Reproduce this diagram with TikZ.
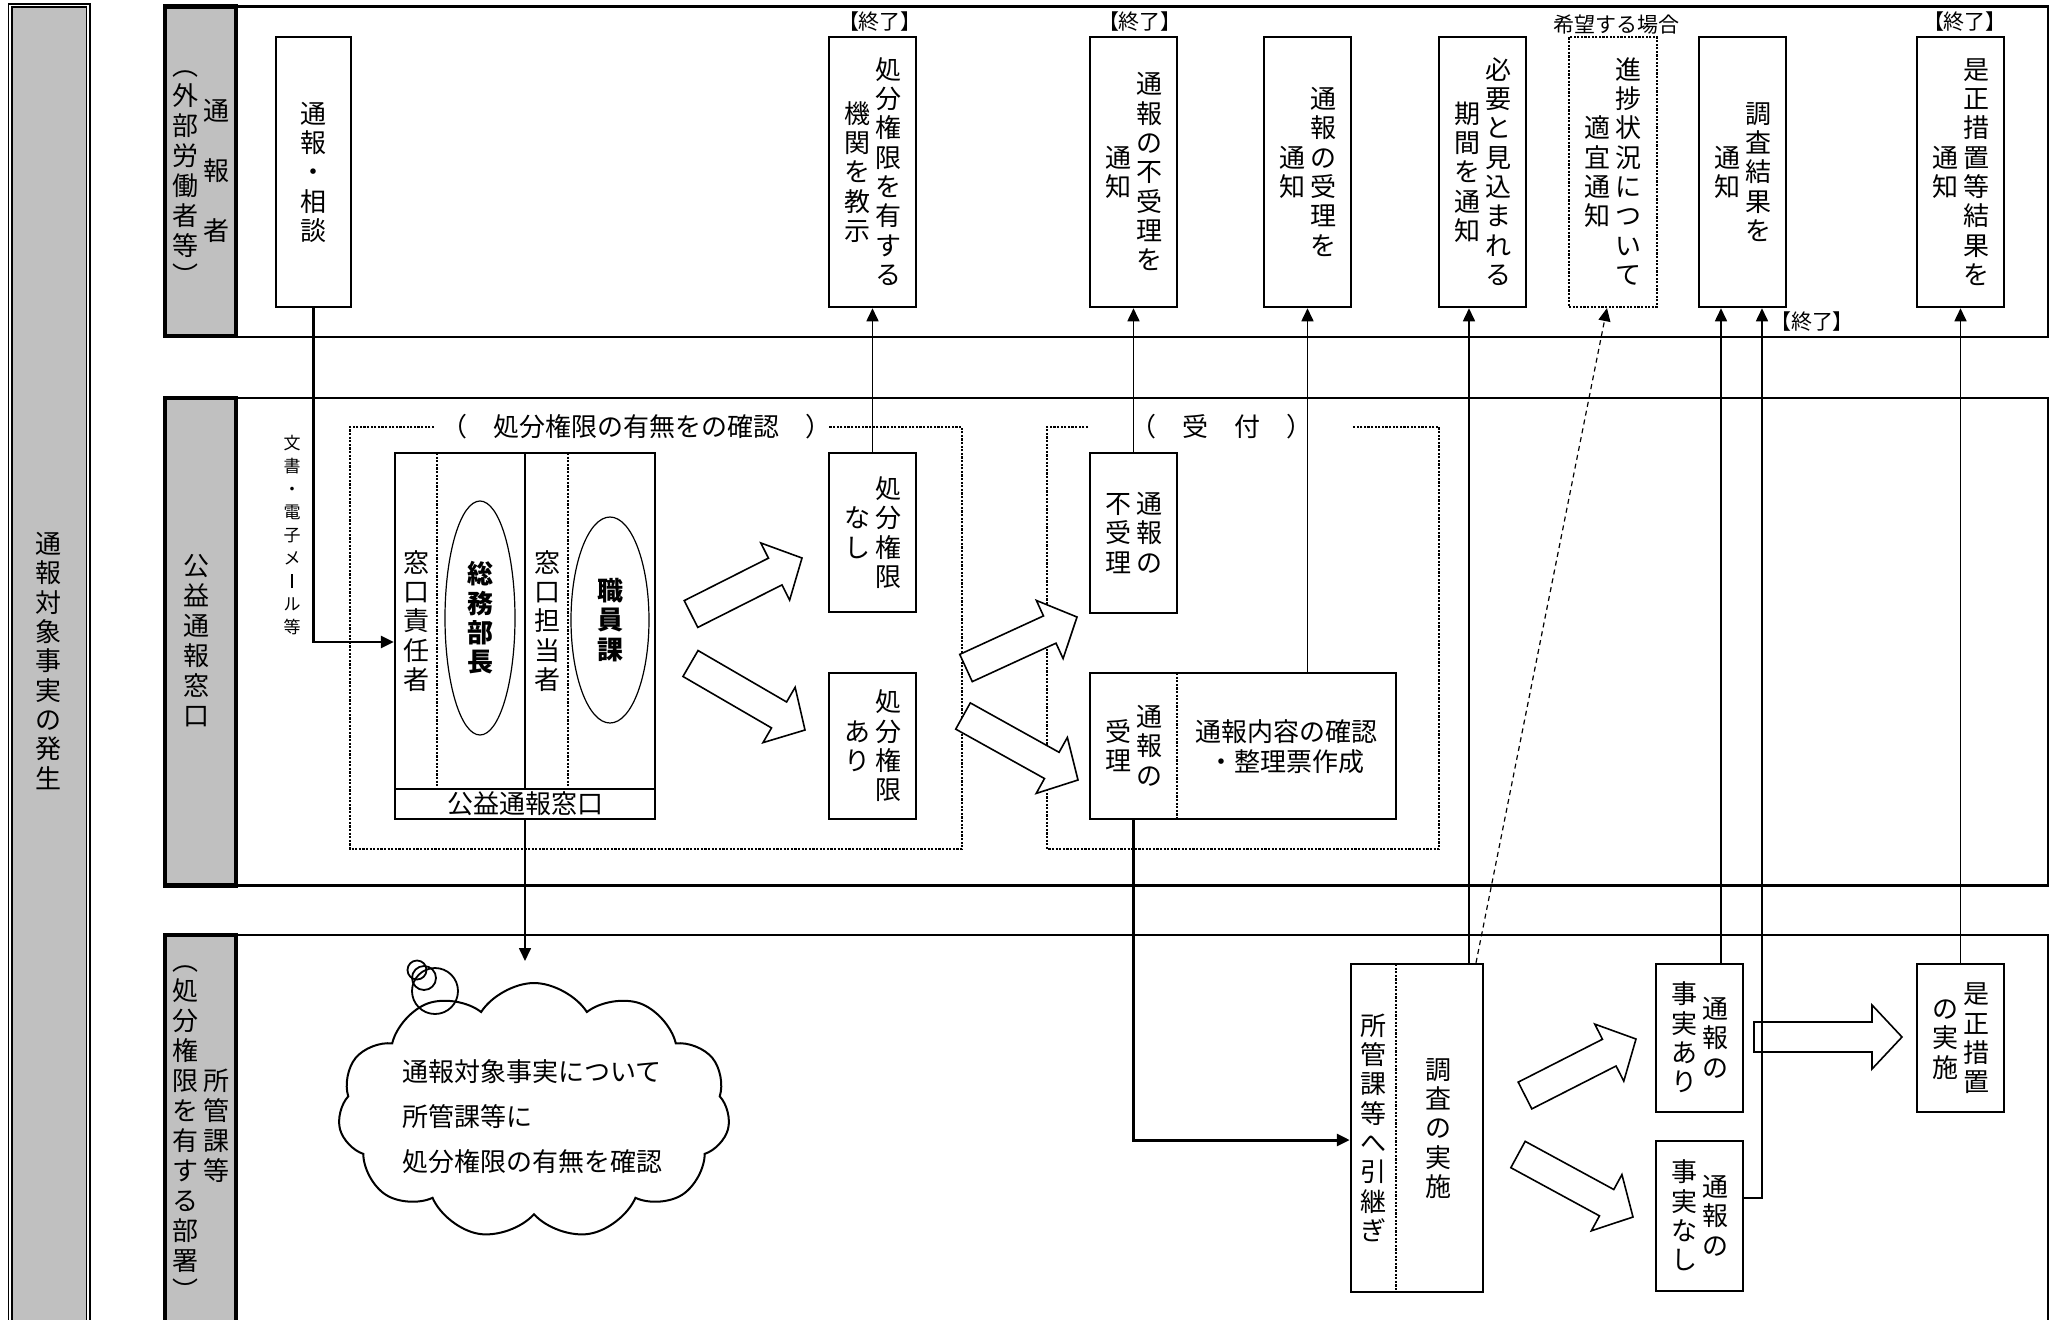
\documentclass[tikz,border=0pt]{standalone}
\usepackage{fontspec}
\setmainfont{Noto Sans CJK JP}
\newfontfamily\jpp{Noto Sans CJK JP}[RawFeature=+palt]
\usetikzlibrary{arrows.meta,calc,shapes.symbols,shapes.geometric}
\definecolor{hgray}{RGB}{192,192,192}
\newlength\vtpitch
\setlength\vtpitch{14.65pt}
\ExplSyntaxOn
\NewDocumentCommand\vt{O{\vtpitch}m}{
  \vbox{
    \baselineskip=#1\relax
    \lineskiplimit=-\maxdimen
    \lineskip=0pt
    \tl_map_inline:nn {#2} {\hbox to 1em {\hss\rule[-0.12em]{0pt}{1em}##1\hss}}
  }
}
\NewDocumentCommand\tcol{O{\vtpitch}mm}{
  $\vcenter{\vt[#1]{#2}}$\hskip2.5pt$\vcenter{\vt[#1]{#3}}$
}
\ExplSyntaxOff
\newcommand\vbar{\rule[-0.04em]{0.07em}{0.84em}}
\newcommand\barrow[2]{%
  \path ($(#2)!15pt!(#1)$) coordinate (bab);
  \draw[bigarr] ($(#1)!7.5pt!90:(#2)$) -- ($(bab)!7.5pt!-90:(#1)$) -- ($(bab)!16pt!-90:(#1)$) -- (#2) -- ($(bab)!16pt!90:(#1)$) -- ($(bab)!7.5pt!90:(#1)$) -- ($(#1)!7.5pt!-90:(#2)$) -- cycle;
}
\begin{document}
\begin{tikzpicture}[x=0.5pt,y=-0.5pt,
  every node/.style={font=\fontsize{13pt}{15pt}\selectfont, inner sep=0pt},
  sz/.style 2 args={minimum width=#1*0.5pt, minimum height=#2*0.5pt},
  box/.style={draw, rectangle, line width=1.25pt, fill=white},
  dotline/.style={line width=1.1pt, dash pattern=on 1.1pt off 0.7pt},
  lane/.style={line width=1.3pt},
  hdr/.style={draw, rectangle, line width=2.2pt, fill=hgray},
  conn/.style={line width=0.8pt, -{Triangle[width=6pt,length=6.5pt]}},
  bigarr/.style={line width=0.8pt, fill=white, line join=miter},
  lbl/.style={font=\jpp\fontsize{10.5pt}{11pt}\selectfont},
  ell/.style={ellipse, draw, line width=0.6pt},
  bub/.style={circle, draw, line width=0.9pt}
]
\useasboundingbox (0,0) rectangle (2058,1319);

% left column
\node[draw, double, line width=0.85pt, double distance=0.85pt, fill=hgray, sz={78}{1345}] (h0) at (49.2,678) {};
\node (h0t) at (48.5,661) {\vt{通報対象事実の発生}};

% lanes
\draw[lane] (235.8,6.5) -- (2048,6.5) -- (2048,337) -- (235.8,337);
\draw[lane] (235.8,398) -- (2048,398) -- (2048,885.5) -- (235.8,885.5);
\draw[lane] (235.8,935) -- (2048,935) -- (2048,1345);

\node[hdr, sz={70.6}{329.5}] (h1) at (200.5,171.25) {};
\node (h1t) at (201,171) {\tcol[15pt]{︵外部労働者等︶}{通　報　者}};
\node[hdr, sz={70.6}{487.5}] (h2) at (200.5,641.75) {};
\node (h2t) at (196,641) {\vt[15pt]{公益通報窓口}};
\node[hdr, sz={70.6}{410}] (h3) at (200.5,1140) {};
\node (h3t) at (200.5,1126) {\tcol[15pt]{︵処分権限を有する部署︶}{所管課等}};

% group boxes
\draw[dotline] (434,427) -- (350,427) -- (350,849) -- (962,849) -- (962,427) -- (829,427);
\node (g1t) at (636,427) {（　処分権限の有無をの確認　）};
\draw[dotline] (1088,427) -- (1047,427) -- (1047,849) -- (1439,849) -- (1439,427) -- (1353,427);
\node (g2t) at (1221,427) {（　受　付　）};

% big block arrows
\coordinate (aA1) at (691,614); \coordinate (aA2) at (802,558);
\coordinate (aB1) at (690.5,663.5); \coordinate (aB2) at (805,730);
\coordinate (aC1) at (966,668); \coordinate (aC2) at (1077,617);
\coordinate (aD1) at (963,716); \coordinate (aD2) at (1078,780);
\coordinate (aE1) at (1525,1095.5); \coordinate (aE2) at (1636,1039);
\coordinate (aF1) at (1518,1154.5); \coordinate (aF2) at (1633,1217);
\coordinate (aG1) at (1754,1037); \coordinate (aG2) at (1902,1037);
\barrow{aA1}{aA2}
\barrow{aB1}{aB2}
\barrow{aC1}{aC2}
\barrow{aD1}{aD2}
\barrow{aE1}{aE2}
\barrow{aF1}{aF2}
\barrow{aG1}{aG2}

% top row
\node[box, sz={75}{270}] (t1) at (313.5,172) {\vt{通報・相談}};
\node[box, sz={87}{270}] (t2) at (872.5,172) {\tcol{機関を教示}{処分権限を有する}};
\node[box, sz={87}{270}] (t3) at (1133.5,172) {\tcol{通知}{通報の不受理を}};
\node[box, sz={87}{270}] (t4) at (1307.5,172) {\tcol{通知}{通報の受理を}};
\node[box, sz={87}{270}] (t5) at (1482.5,172) {\tcol{期間を通知}{必要と見込まれる}};
\node[box, dotline, sz={88}{270}] (t6) at (1613,172) {\tcol{適宜通知}{進捗状況について}};
\node[box, sz={87}{270}] (t7) at (1742.5,172) {\tcol{通知}{調査結果を}};
\node[box, sz={87}{270}] (t8) at (1960.5,172) {\tcol{通知}{是正措置等結果を}};
\node[lbl] (end1) at (879.5,22) {【終了】};
\node[lbl] (end2) at (1139.5,22) {【終了】};
\node[lbl] (end3) at (1812,322) {【終了】};
\node[lbl] (end4) at (1964.5,22) {【終了】};
\node[font=\fontsize{10.5pt}{11pt}\selectfont] (kibou) at (1616,25) {希望する場合};

% middle lane
\node[font=\fontsize{8.5pt}{9pt}\selectfont] (bunsho) at (292,535) {\vt[11.5pt]{文書・電子メ{\vbar}ル等}};
\node[box, sz={260}{366}] (m0) at (525,636) {};
\draw[line width=1.25pt] (395,789) -- (655,789);
\draw[line width=1pt] (525,453) -- (525,789);
\draw[dotline] (437,453) -- (437,789);
\draw[dotline] (568,453) -- (568,789);
\node (m0a) at (416,621) {\vt{窓口責任者}};
\node (m0b) at (547,621) {\vt{窓口担当者}};
\node[ell, sz={70}{234}] (e1) at (480,618) {\bfseries\vt{総務部長}};
\node[ell, sz={78}{206}] (e2) at (610,620) {\bfseries\vt{職員課}};
\node (m0c) at (525,804) {公益通報窓口};

\node[box, sz={87}{159}] (n1) at (872.5,532.5) {\tcol{なし}{処分権限}};
\node[box, sz={87}{146}] (n2) at (872.5,746) {\tcol{あり}{処分権限}};
\node[box, sz={87}{160}] (r1) at (1133.5,533) {\tcol{不受理}{通報の}};
\node[box, sz={306}{146}] (r2) at (1243,746) {};
\draw[dotline] (1177,673) -- (1177,819);
\node (r2a) at (1133.5,746) {\tcol{受理}{通報の}};
\node[align=center] (r2b) at (1286.5,747) {通報内容の確認\\・整理票作成};

% bottom lane
\node[box, sz={132}{328}] (s1) at (1417,1128) {};
\draw[dotline] (1396,964) -- (1396,1292);
\node (s1a) at (1373,1128) {\vt{所管課等へ引継ぎ}};
\node (s1b) at (1438,1128) {\vt{調査の実施}};
\node[box, sz={87}{148}] (f1) at (1699.5,1038) {\tcol{事実あり}{通報の}};
\node[box, sz={87}{150}] (f2) at (1699.5,1216) {\tcol{事実なし}{通報の}};
\node[box, sz={87}{148}] (f3) at (1960.5,1038) {\tcol{の実施}{是正措置}};

% cloud
\node[cloud, draw, line width=1pt, cloud puffs=11, cloud puff arc=115, aspect=1.54, sz={392}{256}] (cl) at (534,1111) {};
\node[bub, minimum size=19*0.5pt] (bub1) at (417,970) {};
\node[bub, minimum size=24*0.5pt] (bub2) at (424,978) {};
\node[bub, minimum size=46*0.5pt] (bub3) at (435,991) {};
\node[align=left, font=\fontsize{13pt}{22.5pt}\selectfont] (clt) at (532,1117) {通報対象事実について\\所管課等に\\処分権限の有無を確認};

% connectors
\coordinate (k1) at (313.5,642);
\draw[conn, line width=1.3pt] (t1.south) -- (k1) -- (m0.west |- k1);
\coordinate (k2) at (524,961);
\draw[conn] (m0.south) -- (m0.south |- k2);
\draw[conn] (n1.north) -- (t2.south);
\draw[conn] (r1.north) -- (t3.south);
\draw[conn] (t4.south |- r2.north) -- (t4.south);
\coordinate (k3) at (1134,1140);
\draw[conn, line width=1.5pt] (r1.south |- r2.south) -- (r1.south |- k3) -- (s1.west |- k3);
\coordinate (k4) at (1469,0);
\draw[conn] (s1.north -| k4) -- (t5.south -| k4);
\coordinate (k5) at (1476,0);
\coordinate (k6) at (1607,0);
\draw[conn, line width=0.6pt, dash pattern=on 2.5pt off 2pt] (s1.north -| k5) -- (t6.south -| k6);
\coordinate (k7) at (1721,0);
\draw[conn] (f1.north -| k7) -- (t7.south -| k7);
\coordinate (k8) at (1762,1198);
\draw[conn] (f2.east |- k8) -- (k8) -- (t7.south -| k8);
\draw[conn] (f3.north) -- (t8.south);
\end{tikzpicture}
\end{document}
